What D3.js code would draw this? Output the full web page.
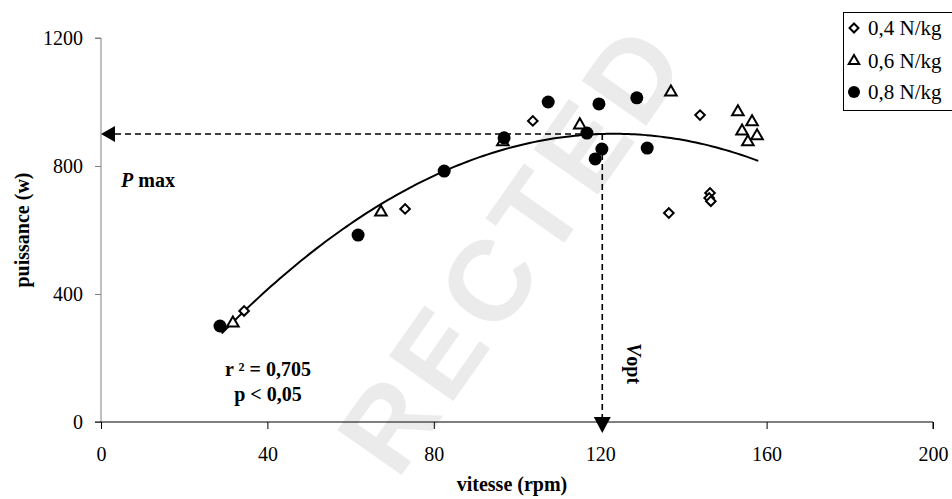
<!DOCTYPE html>
<html><head><meta charset="utf-8">
<script src="https://cdn.jsdelivr.net/npm/d3@7"></script>
<style>
body{margin:0;background:#fff}
svg{display:block}
</style>
</head><body>
<svg id="c" width="952" height="499"></svg>
<script>
// ---- data ----
const xTicks = [0, 40, 80, 120, 160, 200];
const yTicks = [0, 400, 800, 1200];
const seriesNames = ["0,4 N/kg", "0,6 N/kg", "0,8 N/kg"];
const v04 = [34.4, 73.1, 103.8, 136.5, 144.0, 146.4, 146.2, 146.6];
const p04 = [347, 666, 941, 653, 959, 716, 700, 690];
const v06 = [31.7, 67.3, 96.6, 115.1, 137.0, 153.1, 156.5, 154.1, 157.7, 155.5];
const p06 = [309, 656, 875, 928, 1031, 969, 938, 909, 894, 875];
const v08 = [28.6, 61.8, 82.5, 96.9, 107.5, 119.7, 116.8, 120.4, 118.8, 128.8, 131.3];
const p08 = [300, 584, 784, 888, 1000, 994, 903, 853, 822, 1013, 856];
// quadratic trend P = c0 + c1 v + c2 v^2
const fitCoef = [-166.1, 17.309, -0.07021];
const fitRange = [29, 158];
const pMax = 900, vOpt = 120.5;

const SERIF = "Liberation Serif";

const svg = d3.select("#c");
const x = d3.scaleLinear().domain([0, 200]).range([101, 933]);
const y = d3.scaleLinear().domain([0, 1200]).range([422, 38]);

// watermark
svg.append("text").attr("transform", "translate(513,247) rotate(-55)")
  .attr("text-anchor", "middle").attr("dominant-baseline", "central")
  .attr("font-family", "Liberation Sans").attr("font-weight", "bold")
  .attr("font-size", 114).attr("fill", "#ebebeb").attr("letter-spacing", 8)
  .text("RECTED");

// axes
const gy = svg.append("g").attr("transform", `translate(${x(0)},0)`)
  .call(d3.axisLeft(y).tickValues(yTicks).tickSize(6).tickPadding(12).tickFormat(d3.format("d")));
gy.attr("font-family", SERIF).attr("font-size", 20);
gy.select(".domain").attr("stroke", "#808080").attr("d", `M-6,${y(1200)}H0V${y(0)}`);
gy.selectAll(".tick line").attr("stroke", "#808080");
gy.selectAll("text").attr("fill", "#000");

const gx = svg.append("g").attr("transform", `translate(0,${y(0)})`)
  .call(d3.axisBottom(x).tickValues(xTicks).tickSize(7).tickPadding(18).tickFormat(d3.format("d")));
gx.attr("font-family", SERIF).attr("font-size", 20);
gx.select(".domain").attr("stroke", "#000").attr("d", `M${x(0) - 6},0H${x(200)}V7`);
gx.selectAll(".tick line").attr("stroke", "#000");
gx.selectAll("text").attr("fill", "#000");

// axis titles
svg.append("text").attr("font-family", SERIF).attr("x", 512).attr("y", 491).attr("text-anchor", "middle")
  .attr("font-weight", "bold").attr("font-size", 20)
  .text("vitesse (rpm)");
svg.append("text").attr("font-family", SERIF).attr("transform", "translate(29,230) rotate(-90)").attr("text-anchor", "middle")
  .attr("font-weight", "bold").attr("font-size", 20)
  .text("puissance (w)");

// dashed guides
svg.append("line").attr("x1", x(0) + 14).attr("x2", x(vOpt)).attr("y1", y(pMax)).attr("y2", y(pMax))
  .attr("stroke", "#000").attr("stroke-width", 1.6).attr("stroke-dasharray", "6,4");
svg.append("line").attr("x1", x(vOpt)).attr("x2", x(vOpt)).attr("y1", y(pMax)).attr("y2", y(0) - 4)
  .attr("stroke", "#000").attr("stroke-width", 1.6).attr("stroke-dasharray", "6,4");
// arrows
const ax = x(0), ay = y(pMax);
svg.append("path").attr("d", `M${ax},${ay}L${ax + 14},${ay - 8}L${ax + 14},${ay + 8}Z`).attr("fill", "#000");
const bx = x(vOpt), by = y(0);
svg.append("path").attr("d", `M${bx - 8.5},${by - 5}L${bx + 8.5},${by - 5}L${bx},${by + 11}Z`).attr("fill", "#000");

// trend curve
const curveV = d3.range(fitRange[0], fitRange[1] + 0.001, 1);
const line = d3.line().x(v => x(v)).y(v => y(fitCoef[0] + fitCoef[1] * v + fitCoef[2] * v * v)).curve(d3.curveBasis);
svg.append("path").datum(curveV).attr("d", line).attr("fill", "none").attr("stroke", "#000").attr("stroke-width", 2);

// markers
const sqr = d3.symbol().type(d3.symbolSquare).size(46)();
const tri = d3.symbol().type(d3.symbolTriangle).size(58)();
function drawDiamonds(g, vs, ps) {
  g.selectAll(null).data(vs).join("path").attr("d", sqr)
    .attr("transform", (d, i) => `translate(${x(d)},${y(ps[i])}) rotate(45)`)
    .attr("fill", "#fff").attr("stroke", "#000").attr("stroke-width", 2);
}
function drawTriangles(g, vs, ps) {
  g.selectAll(null).data(vs).join("path").attr("d", tri)
    .attr("transform", (d, i) => `translate(${x(d)},${y(ps[i])})`)
    .attr("fill", "#fff").attr("stroke", "#000").attr("stroke-width", 2);
}
function drawCircles(g, vs, ps) {
  g.selectAll(null).data(vs).join("circle").attr("cx", d => x(d)).attr("cy", (d, i) => y(ps[i]))
    .attr("r", 6.5).attr("fill", "#000");
}
drawDiamonds(svg.append("g"), v04, p04);
drawTriangles(svg.append("g"), v06, p06);
drawCircles(svg.append("g"), v08, p08);

// annotations
svg.append("text").attr("font-family", SERIF).attr("x", 121).attr("y", 187)
  .attr("font-weight", "bold").attr("font-size", 20)
  .call(t => { t.append("tspan").attr("font-style", "italic").text("P"); t.append("tspan").text(" max"); });
svg.append("text").attr("font-family", SERIF).attr("x", 268).attr("y", 376).attr("text-anchor", "middle")
  .attr("font-weight", "bold").attr("font-size", 20).text("r ² = 0,705");
svg.append("text").attr("font-family", SERIF).attr("x", 268).attr("y", 401).attr("text-anchor", "middle")
  .attr("font-weight", "bold").attr("font-size", 20).text("p < 0,05");
svg.append("text").attr("font-family", SERIF).attr("transform", "translate(627,343) rotate(90)")
  .attr("font-weight", "bold").attr("font-size", 20)
  .call(t => { t.append("tspan").attr("font-style", "italic").text("V"); t.append("tspan").text("opt"); });

// legend
const lg = svg.append("g");
lg.append("rect").attr("x", 843.5).attr("y", 12.5).attr("width", 120).attr("height", 98)
  .attr("fill", "#fff").attr("stroke", "#000").attr("stroke-width", 1);
const ly = [28, 61, 92];
lg.append("path").attr("d", d3.symbol().type(d3.symbolSquare).size(40)()).attr("transform", `translate(854,${ly[0]}) rotate(45)`)
  .attr("fill", "#fff").attr("stroke", "#000").attr("stroke-width", 2);
lg.append("path").attr("d", d3.symbol().type(d3.symbolTriangle).size(48)()).attr("transform", `translate(854,${ly[1]})`)
  .attr("fill", "#fff").attr("stroke", "#000").attr("stroke-width", 2);
lg.append("circle").attr("cx", 854).attr("cy", ly[2]).attr("r", 6).attr("fill", "#000");
lg.selectAll(null).data(seriesNames).join("text").attr("font-family", SERIF).attr("x", 868).attr("y", (d, i) => ly[i] + 7)
  .attr("font-size", 21).text(d => d);
</script>
</body></html>
